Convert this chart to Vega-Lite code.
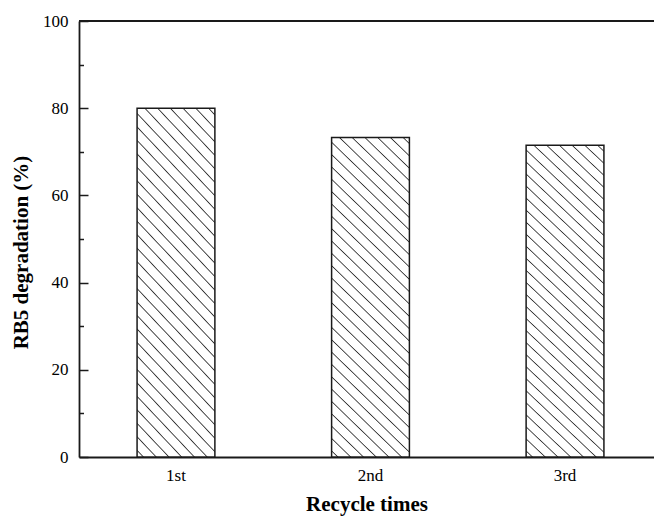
{
  "$schema": "https://vega.github.io/schema/vega-lite/v6.json",
  "width": 575,
  "height": 436,
  "autosize": {"type": "none"},
  "padding": {"left": 79, "top": 21, "right": 0, "bottom": 59},
  "background": "white",
  "config": {"view": {"stroke": null}, "font": "Liberation Serif"},
  "data": {"values": [
    {"cycle": "1st", "degradation": 80.0},
    {"cycle": "2nd", "degradation": 73.3},
    {"cycle": "3rd", "degradation": 71.5}
  ]},
  "resolve": {"axis": {"y": "independent"}},
  "layer": [
    {
      "mark": {
        "type": "bar",
        "stroke": "#1a1a1a",
        "strokeWidth": 1.5,
        "fill": {
          "gradient": "linear",
          "x1": 0, "y1": 1, "x2": 0.2763, "y2": -0.1708,
          "stops": [
            {"offset": 0.0126, "color": "white"}, {"offset": 0.0156, "color": "#333"}, {"offset": 0.0186, "color": "white"},
            {"offset": 0.0439, "color": "white"}, {"offset": 0.0469, "color": "#333"}, {"offset": 0.0499, "color": "white"},
            {"offset": 0.0751, "color": "white"}, {"offset": 0.0781, "color": "#333"}, {"offset": 0.0811, "color": "white"},
            {"offset": 0.1064, "color": "white"}, {"offset": 0.1094, "color": "#333"}, {"offset": 0.1124, "color": "white"},
            {"offset": 0.1376, "color": "white"}, {"offset": 0.1406, "color": "#333"}, {"offset": 0.1436, "color": "white"},
            {"offset": 0.1689, "color": "white"}, {"offset": 0.1719, "color": "#333"}, {"offset": 0.1749, "color": "white"},
            {"offset": 0.2001, "color": "white"}, {"offset": 0.2031, "color": "#333"}, {"offset": 0.2061, "color": "white"},
            {"offset": 0.2314, "color": "white"}, {"offset": 0.2344, "color": "#333"}, {"offset": 0.2374, "color": "white"},
            {"offset": 0.2626, "color": "white"}, {"offset": 0.2656, "color": "#333"}, {"offset": 0.2686, "color": "white"},
            {"offset": 0.2939, "color": "white"}, {"offset": 0.2969, "color": "#333"}, {"offset": 0.2999, "color": "white"},
            {"offset": 0.3251, "color": "white"}, {"offset": 0.3281, "color": "#333"}, {"offset": 0.3311, "color": "white"},
            {"offset": 0.3564, "color": "white"}, {"offset": 0.3594, "color": "#333"}, {"offset": 0.3624, "color": "white"},
            {"offset": 0.3876, "color": "white"}, {"offset": 0.3906, "color": "#333"}, {"offset": 0.3936, "color": "white"},
            {"offset": 0.4189, "color": "white"}, {"offset": 0.4219, "color": "#333"}, {"offset": 0.4249, "color": "white"},
            {"offset": 0.4501, "color": "white"}, {"offset": 0.4531, "color": "#333"}, {"offset": 0.4561, "color": "white"},
            {"offset": 0.4814, "color": "white"}, {"offset": 0.4844, "color": "#333"}, {"offset": 0.4874, "color": "white"},
            {"offset": 0.5126, "color": "white"}, {"offset": 0.5156, "color": "#333"}, {"offset": 0.5186, "color": "white"},
            {"offset": 0.5439, "color": "white"}, {"offset": 0.5469, "color": "#333"}, {"offset": 0.5499, "color": "white"},
            {"offset": 0.5751, "color": "white"}, {"offset": 0.5781, "color": "#333"}, {"offset": 0.5811, "color": "white"},
            {"offset": 0.6064, "color": "white"}, {"offset": 0.6094, "color": "#333"}, {"offset": 0.6124, "color": "white"},
            {"offset": 0.6376, "color": "white"}, {"offset": 0.6406, "color": "#333"}, {"offset": 0.6436, "color": "white"},
            {"offset": 0.6689, "color": "white"}, {"offset": 0.6719, "color": "#333"}, {"offset": 0.6749, "color": "white"},
            {"offset": 0.7001, "color": "white"}, {"offset": 0.7031, "color": "#333"}, {"offset": 0.7061, "color": "white"},
            {"offset": 0.7314, "color": "white"}, {"offset": 0.7344, "color": "#333"}, {"offset": 0.7374, "color": "white"},
            {"offset": 0.7626, "color": "white"}, {"offset": 0.7656, "color": "#333"}, {"offset": 0.7686, "color": "white"},
            {"offset": 0.7939, "color": "white"}, {"offset": 0.7969, "color": "#333"}, {"offset": 0.7999, "color": "white"},
            {"offset": 0.8251, "color": "white"}, {"offset": 0.8281, "color": "#333"}, {"offset": 0.8311, "color": "white"},
            {"offset": 0.8564, "color": "white"}, {"offset": 0.8594, "color": "#333"}, {"offset": 0.8624, "color": "white"},
            {"offset": 0.8876, "color": "white"}, {"offset": 0.8906, "color": "#333"}, {"offset": 0.8936, "color": "white"},
            {"offset": 0.9189, "color": "white"}, {"offset": 0.9219, "color": "#333"}, {"offset": 0.9249, "color": "white"},
            {"offset": 0.9501, "color": "white"}, {"offset": 0.9531, "color": "#333"}, {"offset": 0.9561, "color": "white"},
            {"offset": 0.9814, "color": "white"}, {"offset": 0.9844, "color": "#333"}, {"offset": 0.9874, "color": "white"}
          ]
        }
      },
      "encoding": {
        "x": {
          "field": "cycle",
          "type": "nominal",
          "sort": null,
          "scale": {"paddingInner": 0.6, "paddingOuter": 0.278, "align": 0.537},
          "axis": {
            "title": "Recycle times",
            "titleFont": "Liberation Serif",
            "titleFontSize": 21,
            "titleFontWeight": "bold",
            "titleColor": "black",
            "titlePadding": 10,
            "labelFont": "Liberation Serif",
            "labelFontSize": 17,
            "labelColor": "black",
            "labelAngle": 0,
            "labelPadding": 18,
            "tickSize": -8,
            "tickWidth": 1.5,
            "tickColor": "#1a1a1a",
            "domainColor": "#1a1a1a",
            "domainWidth": 1.8,
            "grid": false
          }
        },
        "y": {
          "field": "degradation",
          "type": "quantitative",
          "scale": {"domain": [0, 100], "nice": false, "zero": true},
          "axis": {
            "orient": "left",
            "values": [0, 20, 40, 60, 80, 100],
            "title": "RB5 degradation (%)",
            "titleFont": "Liberation Serif",
            "titleFontSize": 21,
            "titleFontWeight": "bold",
            "titleColor": "black",
            "titlePadding": 11,
            "titleY": 231,
            "labelFont": "Liberation Serif",
            "labelFontSize": 17,
            "labelColor": "black",
            "labelPadding": 20,
            "tickSize": -9,
            "tickWidth": 1.5,
            "tickColor": "#1a1a1a",
            "domainColor": "#1a1a1a",
            "domainWidth": 1.8,
            "grid": false
          }
        }
      }
    },
    {
      "mark": {"type": "rule", "stroke": "#1a1a1a", "strokeWidth": 1.8},
      "encoding": {
        "y": {
          "datum": 100,
          "type": "quantitative",
          "axis": {
            "orient": "left",
            "values": [10, 30, 50, 70, 90],
            "labels": false,
            "domain": false,
            "title": null,
            "grid": false,
            "tickSize": -4.5,
            "tickWidth": 1.5,
            "tickColor": "#1a1a1a"
          }
        }
      }
    }
  ]
}
